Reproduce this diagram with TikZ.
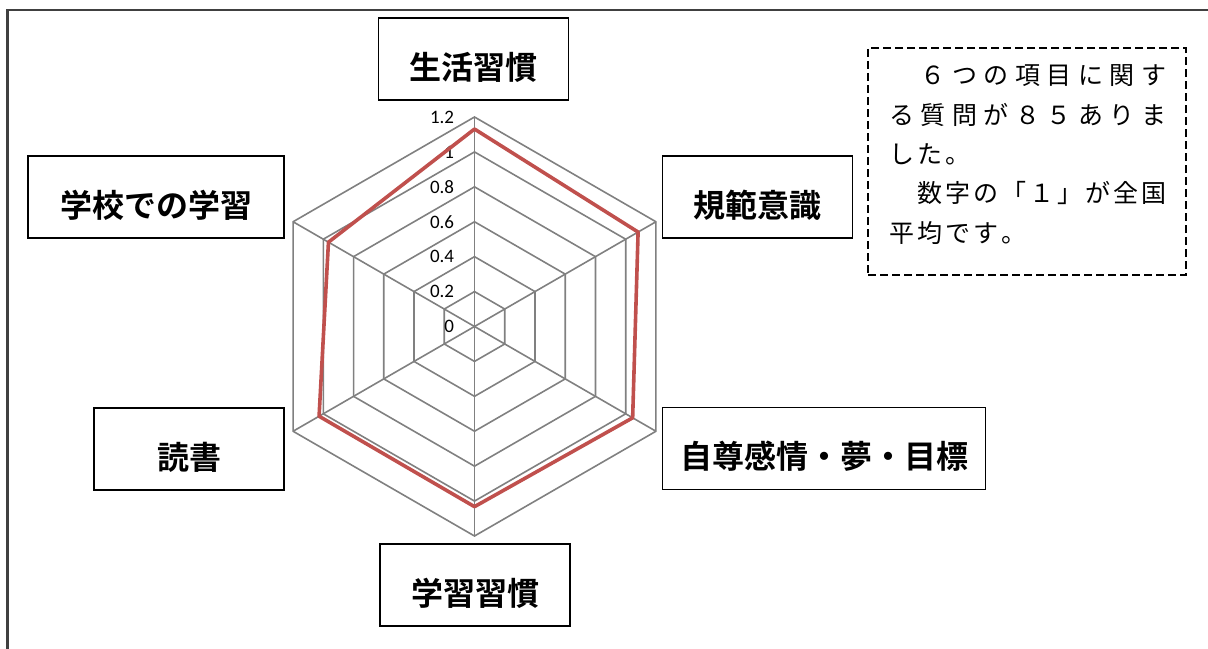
\documentclass[tikz,border=0pt]{standalone}
\usepackage{fontspec}
\newfontfamily\jpfont{Noto Sans CJK JP}[BoldFont=Noto Sans CJK JP Bold]
\newfontfamily\tickfont{Carlito}

\definecolor{gridgray}{RGB}{128,128,128}
\definecolor{seriesred}{RGB}{192,80,77}
\definecolor{framegray}{RGB}{64,64,64}

% spread the characters of a line over a given width
\newcommand\spreadtext[2]{\makebox[#1][s]{\spreadstep#2\relax}}
\def\spreadstep#1{\ifx#1\relax\else#1\hfil\expandafter\spreadstep\fi}

\tikzset{
	gridline/.style={gridgray, line width=0.8pt},
	dataline/.style={seriesred, line width=1.8pt, line join=round},
	catbox/.style={draw=black, fill=white, line width=0.7pt, inner sep=0pt,
		minimum width=95pt, minimum height=41pt, text height=20pt, text depth=0pt,
		font=\jpfont\bfseries\fontsize{16pt}{16pt}\selectfont},
	notebox/.style={draw=black, line width=0.7pt, dash pattern=on 4pt off 2pt,
		minimum width=159pt, minimum height=113.5pt},
	notetext/.style={inner sep=0pt, font=\jpfont\fontsize{12.5pt}{19.7pt}\selectfont},
	ticklabel/.style={inner sep=0pt, anchor=east, font=\tickfont\fontsize{9.5pt}{9.5pt}\selectfont},
}

\begin{document}
\begin{tikzpicture}[x=0.5pt, y=-0.5pt]
	
	\useasboundingbox (0,0) rectangle (1208,648);
	\clip (0,0) rectangle (1208,648);
	
	% frame of the page
	\draw[framegray, line width=1.2pt] (7.5,680) -- (7.5,10) -- (1240,10);
	
	% radar chart, 0.2 per ring
	\begin{scope}[shift={(474.5,326.5)}, y=0.5pt]
		\foreach \k in {1,...,6}
			\draw[gridline] (90:\k*34.917) -- (30:\k*34.917) -- (-30:\k*34.917)
				-- (-90:\k*34.917) -- (210:\k*34.917) -- (150:\k*34.917) -- cycle;
		\foreach \a in {30,90,...,330}
			\draw[gridline] (0,0) -- (\a:209.5);
		\foreach \v [count=\k from 0] in {0,0.2,0.4,0.6,0.8,1,1.2}
			\node[ticklabel] (tick\k) at (-20,\k*34.917) {\v};
		
		\draw[dataline] (90:1.131*174.58) -- (30:1.082*174.58) -- (-30:1.046*174.58)
			-- (-90:1.032*174.58) -- (210:1.028*174.58) -- (150:0.966*174.58) -- cycle;
	\end{scope}
	
	% axis names
	\node[catbox] (lifebox) at (473.5,59) {生活習慣};
	\node[catbox] (normbox) at (757.5,197) {規範意識};
	\node[catbox, minimum width=161.75pt] (esteembox) at (824,448.7) {自尊感情・夢・目標};
	\node[catbox] (studybox) at (475,585) {学習習慣};
	\node[catbox] (readbox) at (189,449) {読書};
	\node[catbox, minimum width=128pt] (schoolbox) at (156,197) {学校での学習};
	
	% note
	\node[notebox] (notebox) at (1027,161.5) {};
	\node[notetext, anchor=base west] (notelines) at (889,84.7) {\parbox[t]{150pt}{%
		\spreadtext{141.75pt}{　６つの項目に関す}\\
		\spreadtext{141.75pt}{る質問が８５ありま}\\
		\spreadtext{42pt}{した。}\\
		\spreadtext{140pt}{　数字の「１」が全国}\\
		\spreadtext{70pt}{平均です。}}};
	
\end{tikzpicture}
\end{document}
